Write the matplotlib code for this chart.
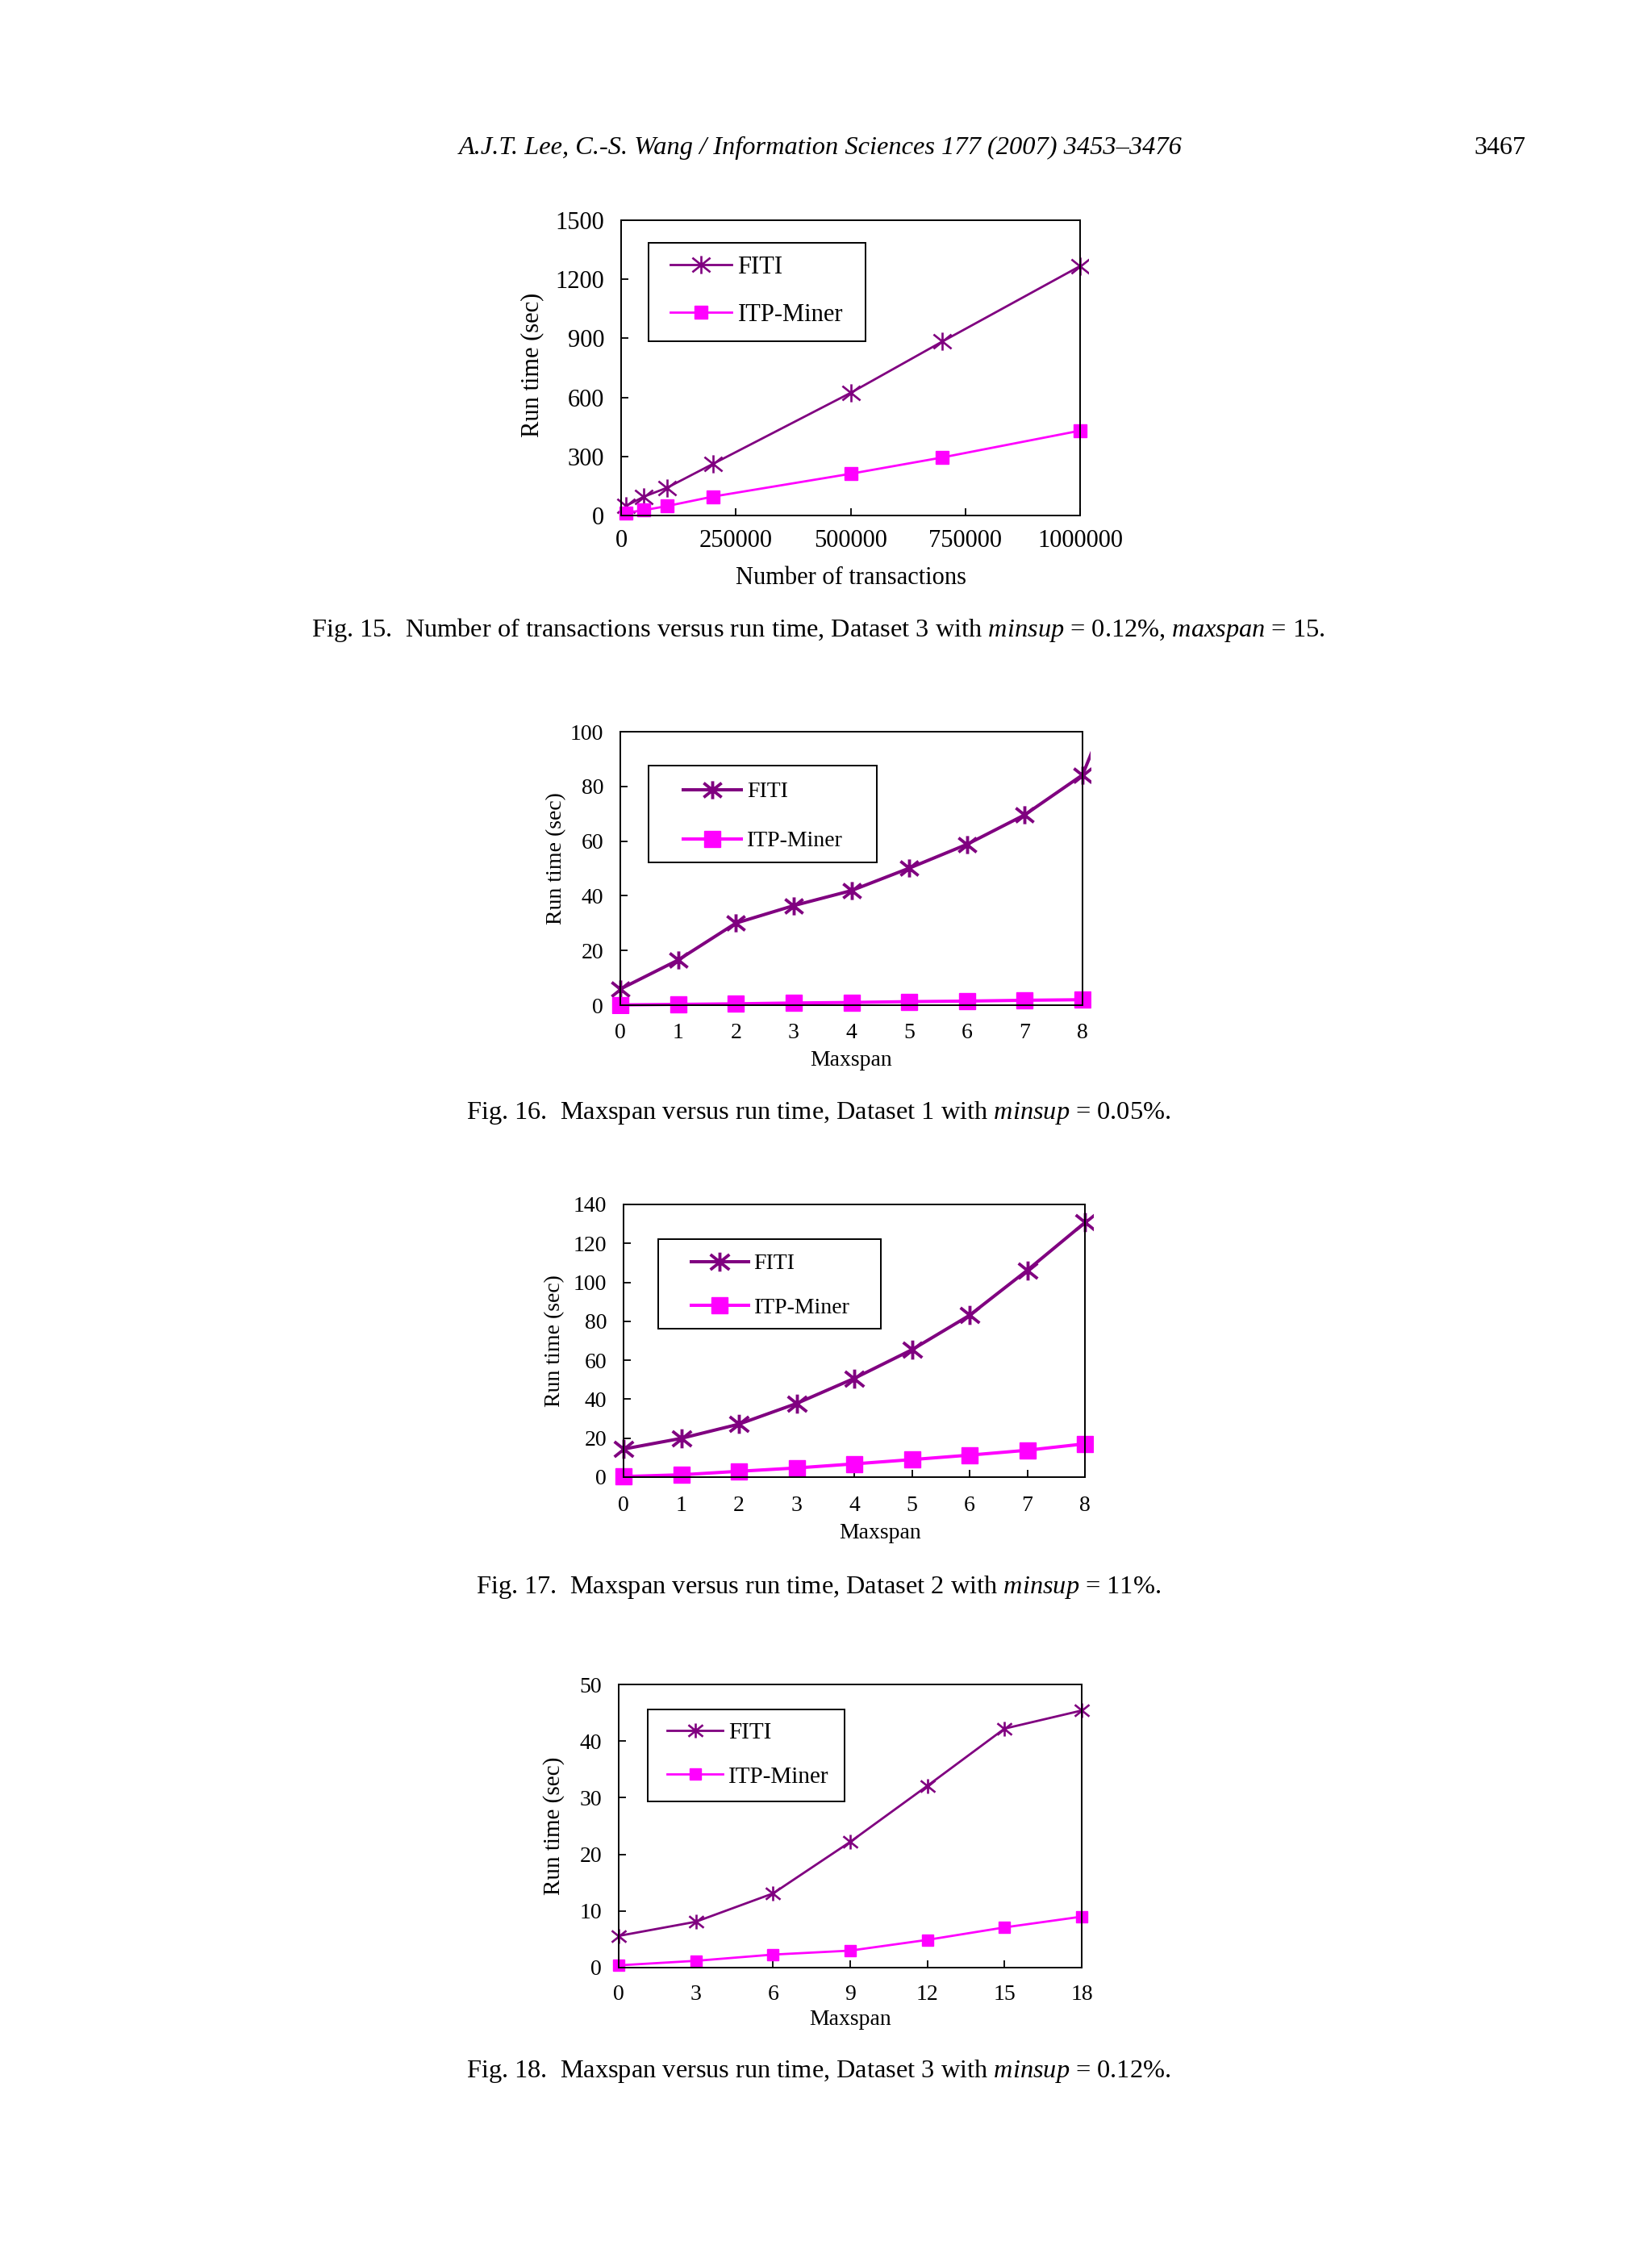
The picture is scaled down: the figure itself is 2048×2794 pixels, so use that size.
import matplotlib
matplotlib.use("Agg")
import matplotlib.pyplot as plt
from matplotlib.path import Path
from matplotlib.patches import Rectangle
from matplotlib.transforms import Bbox, TransformedBbox

plt.rcParams['font.family'] = ['Liberation Serif', 'DejaVu Serif']
plt.rcParams['mathtext.fontset'] = 'custom'
plt.rcParams['mathtext.rm'] = 'Liberation Serif'
plt.rcParams['mathtext.it'] = 'Liberation Serif:italic'

# Fig. 15
trans_x = [10000, 50000, 100000, 200000, 500000, 700000, 1000000]
fiti_15 = [48, 96, 141, 262, 623, 884, 1267]
itp_15 = [14, 27, 48, 96, 212, 295, 431]

# Fig. 16 (last FITI point lies just outside the frame)
maxspan_16 = [0, 1, 2, 3, 4, 5, 6, 7, 8, 9]
fiti_16 = [5.9, 16.5, 30.0, 36.4, 41.9, 50.1, 58.8, 69.6, 84.2, 136]
itp_16 = [0.1, 0.3, 0.5, 0.8, 1.0, 1.3, 1.5, 1.8, 2.0]

# Fig. 17
maxspan_17 = [0, 1, 2, 3, 4, 5, 6, 7, 8]
fiti_17 = [14.4, 19.9, 27.2, 37.8, 50.7, 65.4, 83.1, 106.2, 130.7]
itp_17 = [0.3, 1.2, 3.0, 4.7, 6.8, 9.0, 11.3, 13.8, 17.1]

# Fig. 18
maxspan_18 = [0, 3, 6, 9, 12, 15, 18]
fiti_18 = [5.6, 8.1, 13.1, 22.2, 32.1, 42.2, 45.4]
itp_18 = [0.4, 1.2, 2.3, 3.0, 4.9, 7.1, 9.0]

captions = [
    r"Fig. 15.  Number of transactions versus run time, Dataset 3 with $\mathit{minsup}$ = 0.12%, $\mathit{maxspan}$ = 15.",
    r"Fig. 16.  Maxspan versus run time, Dataset 1 with $\mathit{minsup}$ = 0.05%.",
    r"Fig. 17.  Maxspan versus run time, Dataset 2 with $\mathit{minsup}$ = 11%.",
    r"Fig. 18.  Maxspan versus run time, Dataset 3 with $\mathit{minsup}$ = 0.12%.",
]

PURPLE = '#800080'
MAGENTA = '#FF00FF'
W, H = 2048, 2794

# star marker: an x with a vertical bar through it
star = Path([(-1, -0.8), (1, 0.8), (-1, 0.8), (1, -0.8), (0, -1), (0, 1)],
            [Path.MOVETO, Path.LINETO, Path.MOVETO, Path.LINETO, Path.MOVETO, Path.LINETO])

fig = plt.figure(figsize=(W / 100, H / 100), dpi=100)


def px(x, y):
    # pixel position on the page -> figure fraction
    return x / W, 1 - y / H


def panel(box_px, x, y1, y2, ylim, yticks, xticks, xlabel, fs, lw, ms_star, ms_sq,
          ylab_xy, xlab_xy, xpad, leg):
    l, t, r, b = box_px
    ax = fig.add_axes([l / W, 1 - b / H, (r - l) / W, (b - t) / H])
    l1, = ax.plot(x[:len(y1)], y1, color=PURPLE, lw=lw, marker=star, ms=ms_star,
                  mec=PURPLE, mew=lw * 0.95, mfc='none', label='FITI')
    l2, = ax.plot(x[:len(y2)], y2, color=MAGENTA, lw=lw, marker='s', ms=ms_sq,
                  mec=MAGENTA, mfc=MAGENTA, label='ITP-Miner')
    # markers on the border stick out a little, like the original
    grow = TransformedBbox(Bbox([[-0.03, -0.03], [1.018, 1.03]]), ax.transAxes)
    for ln in (l1, l2):
        ln.set_clip_box(grow)
    ax.set_xlim(xticks[0], xticks[-1])
    ax.set_ylim(ylim)
    ax.set_xticks(xticks)
    ax.set_yticks(yticks)
    ax.ticklabel_format(axis='x', style='plain', useOffset=False)
    ax.tick_params(axis='x', direction='in', length=6.5, width=1.3, labelsize=fs, pad=xpad)
    ax.tick_params(axis='y', direction='in', length=6.5, width=1.3, labelsize=fs, pad=15)
    for s in ax.spines.values():
        s.set_linewidth(1.4)
    ax.set_xlabel(xlabel, fontsize=fs)
    ax.set_ylabel('Run time (sec)', fontsize=fs)
    ax.xaxis.set_label_coords(*xlab_xy)
    ax.yaxis.set_label_coords(*ylab_xy)

    # legend: frame drawn as its own box, entries placed inside it
    (bx0, by0, bx1, by1), hx, cy, lfs, ls, hl = leg
    fx0, fy1 = px(bx0, by0)
    fx1, fy0 = px(bx1, by1)
    ax.add_patch(Rectangle((fx0, fy0), fx1 - fx0, fy1 - fy0, transform=fig.transFigure,
                           facecolor='white', edgecolor='black', lw=1.4, zorder=4,
                           clip_on=False))
    ax.legend(loc='center left', bbox_to_anchor=px(hx, cy), bbox_transform=fig.transFigure,
              fontsize=lfs, frameon=False, borderpad=0, borderaxespad=0,
              handlelength=hl, handletextpad=0.24, labelspacing=ls)
    return ax


ax1 = panel((770, 273, 1339, 639), trans_x, fiti_15, itp_15, (0, 1500),
            [0, 300, 600, 900, 1200, 1500], [0, 250000, 500000, 750000, 1000000],
            'Number of transactions', 22, 2.0, 16, 11.5,
            (-0.169, 0.51), (0.5, -0.173), 12.5,
            ((804, 301, 1073, 423), 831, 361, 22, 0.99, 2.49))

ax2 = panel((769, 907, 1342, 1246), maxspan_16, fiti_16, itp_16, (0, 100),
            [0, 20, 40, 60, 80, 100], list(range(9)),
            'Maxspan', 20, 2.9, 16, 15,
            (-0.117, 0.537), (0.5, -0.165), 15.5,
            ((804, 949, 1087, 1069), 847, 1012, 20, 1.28, 2.6))

ax3 = panel((773, 1493, 1345, 1831), maxspan_17, fiti_17, itp_17, (0, 140),
            [0, 20, 40, 60, 80, 100, 120, 140], list(range(9)),
            'Maxspan', 20, 2.9, 17, 14.5,
            (-0.128, 0.5), (0.556, -0.169), 16.5,
            ((816, 1536, 1092, 1647), 857, 1594, 20, 1.06, 2.55))

ax4 = panel((767, 2088, 1341, 2439), maxspan_18, fiti_18, itp_18, (0, 50),
            [0, 10, 20, 30, 40, 50], [0, 3, 6, 9, 12, 15, 18],
            'Maxspan', 20, 2.0, 13, 10.5,
            (-0.117, 0.5), (0.5, -0.148), 15,
            ((803, 2119, 1047, 2233), 827, 2175, 21, 0.97, 2.37))
ax4.yaxis.label.set_fontsize(21)

# page header
fig.text(0.4966, 0.9343, 'A.J.T. Lee, C.-S. Wang / Information Sciences 177 (2007) 3453\u20133476',
         ha='center', va='center', fontsize=23.3, style='italic')
fig.text(0.9234, 0.9343, '3467', ha='right', va='center', fontsize=23)

cap_y = [0.7205, 0.5063, 0.2959, 0.0811]
for cy, cap in zip(cap_y, captions):
    fig.text(0.4953, cy, cap, ha='center', va='center', fontsize=23.3)

fig.savefig('out.png', dpi=100, facecolor='white')
